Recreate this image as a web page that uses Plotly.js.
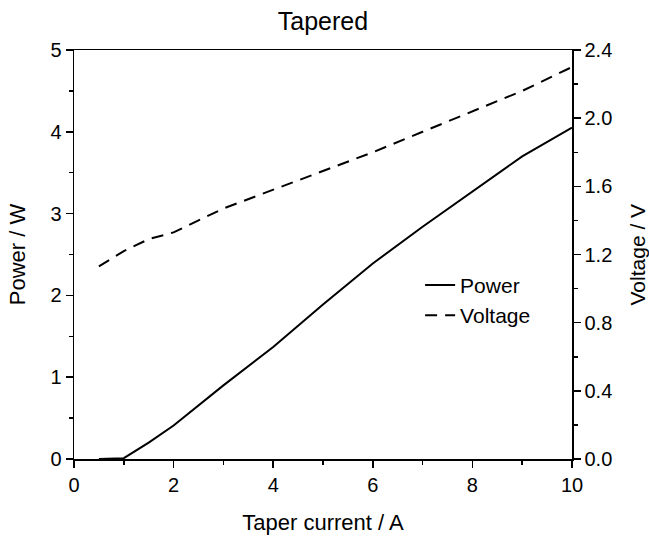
<!DOCTYPE html>
<html>
<head>
<meta charset="utf-8">
<script src="https://cdn.plot.ly/plotly-3.0.1.min.js"></script>
<style>html,body{margin:0;padding:0;background:#fff;}#chart{width:649px;height:536px;}</style>
</head>
<body>
<div id="chart"></div>
<script>
const current = [0.5, 1, 1.5, 2, 3, 4, 5, 6, 7, 8, 9, 10];
const power = [0.0, 0.01, 0.2, 0.41, 0.9, 1.37, 1.89, 2.39, 2.84, 3.27, 3.70, 4.05];
const voltage = [1.13, 1.22, 1.29, 1.33, 1.47, 1.58, 1.69, 1.80, 1.92, 2.04, 2.16, 2.30];

const font = {family: 'Liberation Sans, Arial, sans-serif', color: '#000'};
const traces = [
  {x: current, y: power, name: 'Power', type: 'scatter', mode: 'lines',
   line: {color: '#000', width: 2, dash: 'solid'}, yaxis: 'y'},
  {x: current, y: voltage, name: 'Voltage', type: 'scatter', mode: 'lines',
   line: {color: '#000', width: 2, dash: '12px,8px'}, yaxis: 'y2'}
];
const axisCommon = {showgrid: false, zeroline: false, showline: true, linecolor: '#000', linewidth: 1.5,
  ticks: 'outside', ticklen: 7, tickwidth: 1.5, tickcolor: '#000',
  tickfont: Object.assign({size: 20}, font)};
const layout = {
  width: 649, height: 536,
  margin: {l: 74, r: 77, t: 50, b: 77},
  paper_bgcolor: '#fff', plot_bgcolor: '#fff',
  font: font,
  title: {text: 'Tapered', font: Object.assign({size: 25}, font), x: 0.5, xref: 'paper', y: 1 - 21/536, yref: 'container', yanchor: 'middle'},
  showlegend: true,
  legend: {x: 0.695, y: 0.475, xanchor: 'left', yanchor: 'top', bgcolor: 'rgba(0,0,0,0)',
    font: Object.assign({size: 21}, font), tracegroupgap: 0},
  xaxis: Object.assign({}, axisCommon, {range: [0, 10], dtick: 2, tick0: 0, mirror: true,
    minor: {dtick: 1, ticks: 'outside', ticklen: 4, tickwidth: 1.5, tickcolor: '#000'},
    title: {text: 'Taper current / A', font: Object.assign({size: 22}, font), standoff: 20}}),
  yaxis: Object.assign({}, axisCommon, {range: [0, 5], dtick: 1, tick0: 0,
    minor: {dtick: 0.5, ticks: 'outside', ticklen: 4, tickwidth: 1.5, tickcolor: '#000'},
    title: {text: 'Power / W', font: Object.assign({size: 22}, font), standoff: 18}}),
  yaxis2: Object.assign({}, axisCommon, {range: [0, 2.4], dtick: 0.4, tick0: 0, overlaying: 'y', side: 'right',
    tickformat: '.1f',
    minor: {dtick: 0.2, ticks: 'outside', ticklen: 4, tickwidth: 1.5, tickcolor: '#000'}}),
  annotations: [{text: 'Voltage / V', xref: 'paper', yref: 'paper', x: (637 - 74) / 498, y: 0.5,
    xanchor: 'center', yanchor: 'middle', textangle: -90, showarrow: false, borderpad: 0,
    font: Object.assign({size: 21}, font)}]
};
Plotly.newPlot('chart', traces, layout, {staticPlot: true, displayModeBar: false});
</script>
</body>
</html>
